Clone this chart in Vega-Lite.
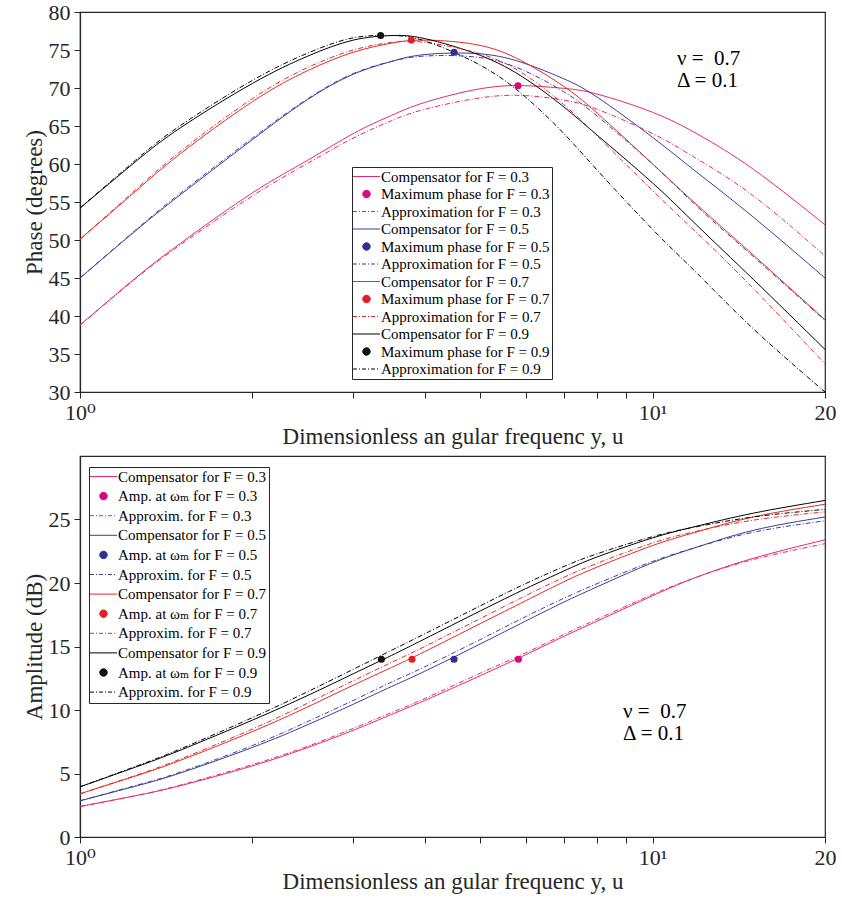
{
  "$schema": "https://vega.github.io/schema/vega-lite/v6.json",
  "background": "white",
  "padding": {"left": 22, "top": 0, "right": 0, "bottom": 0},
  "spacing": 6,
  "config": {
    "view": {"stroke": "#262626", "strokeWidth": 1.2},
    "font": "Liberation Serif, Times New Roman, DejaVu Serif, serif",
    "text": {"font": "Liberation Serif, Times New Roman, DejaVu Serif, serif"},
    "axis": {
      "labelFont": "Liberation Serif, Times New Roman, DejaVu Serif, serif", "titleFont": "Liberation Serif, Times New Roman, DejaVu Serif, serif",
      "labelFontSize": 22, "titleFontSize": 23, "titleFontWeight": "normal",
      "labelColor": "#262626", "titleColor": "#262626",
      "domainColor": "#262626", "tickColor": "#262626", "domainWidth": 1.2,
      "grid": false, "tickSize": 6, "labelPadding": 4, "titlePadding": 2,
      "labelOverlap": false, "labelFlush": false, "labelSeparation": 0
    },
    "legend": {
      "labelFont": "Liberation Serif, Times New Roman, DejaVu Serif, serif", "labelFontSize": 15, "labelColor": "#000000",
      "labelLimit": 400, "symbolStrokeWidth": 1, "symbolSize": 100, "symbolOffset": 5, "labelOffset": 7,
      "strokeColor": "#262626", "fillColor": "white", "padding": 2
    }
  },
  "datasets": {
    "phase": [
      {"u":1,"v":38.8,"s":"Compensator for F = 0.3"},{"u":1.25,"v":45.0,"s":"Compensator for F = 0.3"},{"u":1.5,"v":49.6,"s":"Compensator for F = 0.3"},{"u":2,"v":56.2,"s":"Compensator for F = 0.3"},{"u":2.5,"v":60.5,"s":"Compensator for F = 0.3"},{"u":3,"v":64.0,"s":"Compensator for F = 0.3"},{"u":3.5,"v":66.4,"s":"Compensator for F = 0.3"},{"u":4,"v":68.1,"s":"Compensator for F = 0.3"},{"u":5,"v":69.9,"s":"Compensator for F = 0.3"},{"u":6,"v":70.3,"s":"Compensator for F = 0.3"},{"u":7,"v":69.95,"s":"Compensator for F = 0.3"},{"u":8,"v":69.2,"s":"Compensator for F = 0.3"},{"u":10,"v":66.8,"s":"Compensator for F = 0.3"},{"u":12,"v":63.9,"s":"Compensator for F = 0.3"},{"u":15,"v":59.3,"s":"Compensator for F = 0.3"},{"u":20,"v":52.0,"s":"Compensator for F = 0.3"},
      {"u":1,"v":38.8,"s":"Approximation for F = 0.3"},{"u":1.25,"v":44.9,"s":"Approximation for F = 0.3"},{"u":1.5,"v":49.4,"s":"Approximation for F = 0.3"},{"u":2,"v":55.8,"s":"Approximation for F = 0.3"},{"u":2.5,"v":60.1,"s":"Approximation for F = 0.3"},{"u":3,"v":63.4,"s":"Approximation for F = 0.3"},{"u":3.5,"v":65.7,"s":"Approximation for F = 0.3"},{"u":4,"v":67.2,"s":"Approximation for F = 0.3"},{"u":5,"v":68.7,"s":"Approximation for F = 0.3"},{"u":6,"v":69.0,"s":"Approximation for F = 0.3"},{"u":7,"v":68.4,"s":"Approximation for F = 0.3"},{"u":8,"v":67.2,"s":"Approximation for F = 0.3"},{"u":10,"v":64.0,"s":"Approximation for F = 0.3"},{"u":12,"v":60.6,"s":"Approximation for F = 0.3"},{"u":15,"v":55.8,"s":"Approximation for F = 0.3"},{"u":20,"v":47.9,"s":"Approximation for F = 0.3"},
      {"u":1,"v":45.0,"s":"Compensator for F = 0.5"},{"u":1.25,"v":51.2,"s":"Compensator for F = 0.5"},{"u":1.5,"v":56.0,"s":"Compensator for F = 0.5"},{"u":2,"v":63.2,"s":"Compensator for F = 0.5"},{"u":2.5,"v":68.5,"s":"Compensator for F = 0.5"},{"u":3,"v":71.8,"s":"Compensator for F = 0.5"},{"u":3.5,"v":73.5,"s":"Compensator for F = 0.5"},{"u":4,"v":74.4,"s":"Compensator for F = 0.5"},{"u":5,"v":74.5,"s":"Compensator for F = 0.5"},{"u":6,"v":73.2,"s":"Compensator for F = 0.5"},{"u":7,"v":71.2,"s":"Compensator for F = 0.5"},{"u":8,"v":68.8,"s":"Compensator for F = 0.5"},{"u":10,"v":63.5,"s":"Compensator for F = 0.5"},{"u":12,"v":58.8,"s":"Compensator for F = 0.5"},{"u":15,"v":53.0,"s":"Compensator for F = 0.5"},{"u":20,"v":45.0,"s":"Compensator for F = 0.5"},
      {"u":1,"v":45.0,"s":"Approximation for F = 0.5"},{"u":1.25,"v":51.3,"s":"Approximation for F = 0.5"},{"u":1.5,"v":56.2,"s":"Approximation for F = 0.5"},{"u":2,"v":63.4,"s":"Approximation for F = 0.5"},{"u":2.5,"v":68.6,"s":"Approximation for F = 0.5"},{"u":3,"v":71.9,"s":"Approximation for F = 0.5"},{"u":3.5,"v":73.5,"s":"Approximation for F = 0.5"},{"u":4,"v":74.2,"s":"Approximation for F = 0.5"},{"u":5,"v":74.0,"s":"Approximation for F = 0.5"},{"u":6,"v":72.2,"s":"Approximation for F = 0.5"},{"u":7,"v":69.5,"s":"Approximation for F = 0.5"},{"u":8,"v":66.3,"s":"Approximation for F = 0.5"},{"u":10,"v":60.0,"s":"Approximation for F = 0.5"},{"u":12,"v":54.3,"s":"Approximation for F = 0.5"},{"u":15,"v":47.8,"s":"Approximation for F = 0.5"},{"u":20,"v":39.4,"s":"Approximation for F = 0.5"},
      {"u":1,"v":50.1,"s":"Compensator for F = 0.7"},{"u":1.25,"v":56.4,"s":"Compensator for F = 0.7"},{"u":1.5,"v":61.4,"s":"Compensator for F = 0.7"},{"u":2,"v":68.2,"s":"Compensator for F = 0.7"},{"u":2.5,"v":72.3,"s":"Compensator for F = 0.7"},{"u":3,"v":74.7,"s":"Compensator for F = 0.7"},{"u":3.5,"v":75.9,"s":"Compensator for F = 0.7"},{"u":4,"v":76.3,"s":"Compensator for F = 0.7"},{"u":5,"v":75.6,"s":"Compensator for F = 0.7"},{"u":6,"v":73.3,"s":"Compensator for F = 0.7"},{"u":7,"v":70.2,"s":"Compensator for F = 0.7"},{"u":8,"v":66.7,"s":"Compensator for F = 0.7"},{"u":10,"v":60.0,"s":"Compensator for F = 0.7"},{"u":12,"v":54.5,"s":"Compensator for F = 0.7"},{"u":15,"v":48.0,"s":"Compensator for F = 0.7"},{"u":20,"v":39.5,"s":"Compensator for F = 0.7"},
      {"u":1,"v":50.1,"s":"Approximation for F = 0.7"},{"u":1.25,"v":56.6,"s":"Approximation for F = 0.7"},{"u":1.5,"v":61.7,"s":"Approximation for F = 0.7"},{"u":2,"v":68.6,"s":"Approximation for F = 0.7"},{"u":2.5,"v":72.7,"s":"Approximation for F = 0.7"},{"u":3,"v":75.0,"s":"Approximation for F = 0.7"},{"u":3.5,"v":76.0,"s":"Approximation for F = 0.7"},{"u":4,"v":76.0,"s":"Approximation for F = 0.7"},{"u":5,"v":74.5,"s":"Approximation for F = 0.7"},{"u":6,"v":71.7,"s":"Approximation for F = 0.7"},{"u":7,"v":67.8,"s":"Approximation for F = 0.7"},{"u":8,"v":63.7,"s":"Approximation for F = 0.7"},{"u":10,"v":56.5,"s":"Approximation for F = 0.7"},{"u":12,"v":50.8,"s":"Approximation for F = 0.7"},{"u":15,"v":43.6,"s":"Approximation for F = 0.7"},{"u":20,"v":33.7,"s":"Approximation for F = 0.7"},
      {"u":1,"v":54.2,"s":"Compensator for F = 0.9"},{"u":1.25,"v":60.3,"s":"Compensator for F = 0.9"},{"u":1.5,"v":64.8,"s":"Compensator for F = 0.9"},{"u":2,"v":70.6,"s":"Compensator for F = 0.9"},{"u":2.5,"v":74.2,"s":"Compensator for F = 0.9"},{"u":3,"v":76.3,"s":"Compensator for F = 0.9"},{"u":3.5,"v":76.9,"s":"Compensator for F = 0.9"},{"u":4,"v":76.5,"s":"Compensator for F = 0.9"},{"u":5,"v":74.3,"s":"Compensator for F = 0.9"},{"u":6,"v":71.2,"s":"Compensator for F = 0.9"},{"u":7,"v":67.5,"s":"Compensator for F = 0.9"},{"u":8,"v":63.8,"s":"Compensator for F = 0.9"},{"u":10,"v":57.5,"s":"Compensator for F = 0.9"},{"u":12,"v":51.8,"s":"Compensator for F = 0.9"},{"u":15,"v":44.8,"s":"Compensator for F = 0.9"},{"u":20,"v":35.6,"s":"Compensator for F = 0.9"},
      {"u":1,"v":54.2,"s":"Approximation for F = 0.9"},{"u":1.25,"v":60.5,"s":"Approximation for F = 0.9"},{"u":1.5,"v":65.1,"s":"Approximation for F = 0.9"},{"u":2,"v":71.0,"s":"Approximation for F = 0.9"},{"u":2.5,"v":74.6,"s":"Approximation for F = 0.9"},{"u":3,"v":76.6,"s":"Approximation for F = 0.9"},{"u":3.5,"v":76.9,"s":"Approximation for F = 0.9"},{"u":4,"v":76.2,"s":"Approximation for F = 0.9"},{"u":5,"v":73.0,"s":"Approximation for F = 0.9"},{"u":6,"v":68.8,"s":"Approximation for F = 0.9"},{"u":7,"v":64.0,"s":"Approximation for F = 0.9"},{"u":8,"v":59.2,"s":"Approximation for F = 0.9"},{"u":10,"v":51.4,"s":"Approximation for F = 0.9"},{"u":12,"v":45.5,"s":"Approximation for F = 0.9"},{"u":15,"v":38.3,"s":"Approximation for F = 0.9"},{"u":20,"v":30.0,"s":"Approximation for F = 0.9"},
      {"u":5.82,"v":70.3,"s":"Maximum phase for F = 0.3"},
      {"u":4.5,"v":74.7,"s":"Maximum phase for F = 0.5"},
      {"u":3.79,"v":76.3,"s":"Maximum phase for F = 0.7"},
      {"u":3.35,"v":76.9,"s":"Maximum phase for F = 0.9"}
    ],
    "amp": [
      {"u":1,"v":2.4,"s":"Compensator for F = 0.3"},{"u":1.25,"v":3.25,"s":"Compensator for F = 0.3"},{"u":1.5,"v":4.05,"s":"Compensator for F = 0.3"},{"u":2,"v":5.6,"s":"Compensator for F = 0.3"},{"u":2.5,"v":7.05,"s":"Compensator for F = 0.3"},{"u":3,"v":8.4,"s":"Compensator for F = 0.3"},{"u":3.5,"v":9.65,"s":"Compensator for F = 0.3"},{"u":4,"v":10.75,"s":"Compensator for F = 0.3"},{"u":5,"v":12.7,"s":"Compensator for F = 0.3"},{"u":6,"v":14.35,"s":"Compensator for F = 0.3"},{"u":7,"v":15.8,"s":"Compensator for F = 0.3"},{"u":8,"v":17.0,"s":"Compensator for F = 0.3"},{"u":10,"v":19.0,"s":"Compensator for F = 0.3"},{"u":12,"v":20.5,"s":"Compensator for F = 0.3"},{"u":15,"v":21.95,"s":"Compensator for F = 0.3"},{"u":20,"v":23.4,"s":"Compensator for F = 0.3"},
      {"u":1,"v":2.4,"s":"Approxim. for F = 0.3"},{"u":1.25,"v":3.25,"s":"Approxim. for F = 0.3"},{"u":1.5,"v":4.1,"s":"Approxim. for F = 0.3"},{"u":2,"v":5.7,"s":"Approxim. for F = 0.3"},{"u":2.5,"v":7.15,"s":"Approxim. for F = 0.3"},{"u":3,"v":8.55,"s":"Approxim. for F = 0.3"},{"u":3.5,"v":9.8,"s":"Approxim. for F = 0.3"},{"u":4,"v":10.9,"s":"Approxim. for F = 0.3"},{"u":5,"v":12.9,"s":"Approxim. for F = 0.3"},{"u":6,"v":14.5,"s":"Approxim. for F = 0.3"},{"u":7,"v":15.95,"s":"Approxim. for F = 0.3"},{"u":8,"v":17.15,"s":"Approxim. for F = 0.3"},{"u":10,"v":19.1,"s":"Approxim. for F = 0.3"},{"u":12,"v":20.5,"s":"Approxim. for F = 0.3"},{"u":15,"v":21.85,"s":"Approxim. for F = 0.3"},{"u":20,"v":23.1,"s":"Approxim. for F = 0.3"},
      {"u":1,"v":2.85,"s":"Compensator for F = 0.5"},{"u":1.25,"v":4.0,"s":"Compensator for F = 0.5"},{"u":1.5,"v":5.05,"s":"Compensator for F = 0.5"},{"u":2,"v":7.05,"s":"Compensator for F = 0.5"},{"u":2.5,"v":8.85,"s":"Compensator for F = 0.5"},{"u":3,"v":10.45,"s":"Compensator for F = 0.5"},{"u":3.5,"v":11.85,"s":"Compensator for F = 0.5"},{"u":4,"v":13.05,"s":"Compensator for F = 0.5"},{"u":5,"v":15.2,"s":"Compensator for F = 0.5"},{"u":6,"v":17.0,"s":"Compensator for F = 0.5"},{"u":7,"v":18.5,"s":"Compensator for F = 0.5"},{"u":8,"v":19.7,"s":"Compensator for F = 0.5"},{"u":10,"v":21.6,"s":"Compensator for F = 0.5"},{"u":12,"v":22.85,"s":"Compensator for F = 0.5"},{"u":15,"v":24.15,"s":"Compensator for F = 0.5"},{"u":20,"v":25.2,"s":"Compensator for F = 0.5"},
      {"u":1,"v":2.85,"s":"Approxim. for F = 0.5"},{"u":1.25,"v":4.05,"s":"Approxim. for F = 0.5"},{"u":1.5,"v":5.12,"s":"Approxim. for F = 0.5"},{"u":2,"v":7.2,"s":"Approxim. for F = 0.5"},{"u":2.5,"v":9.1,"s":"Approxim. for F = 0.5"},{"u":3,"v":10.75,"s":"Approxim. for F = 0.5"},{"u":3.5,"v":12.2,"s":"Approxim. for F = 0.5"},{"u":4,"v":13.4,"s":"Approxim. for F = 0.5"},{"u":5,"v":15.55,"s":"Approxim. for F = 0.5"},{"u":6,"v":17.35,"s":"Approxim. for F = 0.5"},{"u":7,"v":18.8,"s":"Approxim. for F = 0.5"},{"u":8,"v":19.95,"s":"Approxim. for F = 0.5"},{"u":10,"v":21.7,"s":"Approxim. for F = 0.5"},{"u":12,"v":22.85,"s":"Approxim. for F = 0.5"},{"u":15,"v":24.0,"s":"Approxim. for F = 0.5"},{"u":20,"v":24.9,"s":"Approxim. for F = 0.5"},
      {"u":1,"v":3.4,"s":"Compensator for F = 0.7"},{"u":1.25,"v":4.8,"s":"Compensator for F = 0.7"},{"u":1.5,"v":6.05,"s":"Compensator for F = 0.7"},{"u":2,"v":8.3,"s":"Compensator for F = 0.7"},{"u":2.5,"v":10.25,"s":"Compensator for F = 0.7"},{"u":3,"v":11.95,"s":"Compensator for F = 0.7"},{"u":3.5,"v":13.35,"s":"Compensator for F = 0.7"},{"u":4,"v":14.6,"s":"Compensator for F = 0.7"},{"u":5,"v":16.8,"s":"Compensator for F = 0.7"},{"u":6,"v":18.6,"s":"Compensator for F = 0.7"},{"u":7,"v":20.1,"s":"Compensator for F = 0.7"},{"u":8,"v":21.25,"s":"Compensator for F = 0.7"},{"u":10,"v":22.95,"s":"Compensator for F = 0.7"},{"u":12,"v":24.05,"s":"Compensator for F = 0.7"},{"u":15,"v":25.2,"s":"Compensator for F = 0.7"},{"u":20,"v":26.2,"s":"Compensator for F = 0.7"},
      {"u":1,"v":3.4,"s":"Approxim. for F = 0.7"},{"u":1.25,"v":4.85,"s":"Approxim. for F = 0.7"},{"u":1.5,"v":6.15,"s":"Approxim. for F = 0.7"},{"u":2,"v":8.5,"s":"Approxim. for F = 0.7"},{"u":2.5,"v":10.55,"s":"Approxim. for F = 0.7"},{"u":3,"v":12.3,"s":"Approxim. for F = 0.7"},{"u":3.5,"v":13.75,"s":"Approxim. for F = 0.7"},{"u":4,"v":15.0,"s":"Approxim. for F = 0.7"},{"u":5,"v":17.2,"s":"Approxim. for F = 0.7"},{"u":6,"v":19.0,"s":"Approxim. for F = 0.7"},{"u":7,"v":20.45,"s":"Approxim. for F = 0.7"},{"u":8,"v":21.55,"s":"Approxim. for F = 0.7"},{"u":10,"v":23.15,"s":"Approxim. for F = 0.7"},{"u":12,"v":24.1,"s":"Approxim. for F = 0.7"},{"u":15,"v":24.95,"s":"Approxim. for F = 0.7"},{"u":20,"v":25.6,"s":"Approxim. for F = 0.7"},
      {"u":1,"v":3.95,"s":"Compensator for F = 0.9"},{"u":1.25,"v":5.5,"s":"Compensator for F = 0.9"},{"u":1.5,"v":6.85,"s":"Compensator for F = 0.9"},{"u":2,"v":9.2,"s":"Compensator for F = 0.9"},{"u":2.5,"v":11.15,"s":"Compensator for F = 0.9"},{"u":3,"v":12.85,"s":"Compensator for F = 0.9"},{"u":3.5,"v":14.3,"s":"Compensator for F = 0.9"},{"u":4,"v":15.6,"s":"Compensator for F = 0.9"},{"u":5,"v":17.8,"s":"Compensator for F = 0.9"},{"u":6,"v":19.55,"s":"Compensator for F = 0.9"},{"u":7,"v":20.95,"s":"Compensator for F = 0.9"},{"u":8,"v":22.05,"s":"Compensator for F = 0.9"},{"u":10,"v":23.55,"s":"Compensator for F = 0.9"},{"u":12,"v":24.5,"s":"Compensator for F = 0.9"},{"u":15,"v":25.5,"s":"Compensator for F = 0.9"},{"u":20,"v":26.5,"s":"Compensator for F = 0.9"},
      {"u":1,"v":3.95,"s":"Approxim. for F = 0.9"},{"u":1.25,"v":5.55,"s":"Approxim. for F = 0.9"},{"u":1.5,"v":6.95,"s":"Approxim. for F = 0.9"},{"u":2,"v":9.4,"s":"Approxim. for F = 0.9"},{"u":2.5,"v":11.45,"s":"Approxim. for F = 0.9"},{"u":3,"v":13.2,"s":"Approxim. for F = 0.9"},{"u":3.5,"v":14.7,"s":"Approxim. for F = 0.9"},{"u":4,"v":16.0,"s":"Approxim. for F = 0.9"},{"u":5,"v":18.2,"s":"Approxim. for F = 0.9"},{"u":6,"v":19.95,"s":"Approxim. for F = 0.9"},{"u":7,"v":21.3,"s":"Approxim. for F = 0.9"},{"u":8,"v":22.3,"s":"Approxim. for F = 0.9"},{"u":10,"v":23.65,"s":"Approxim. for F = 0.9"},{"u":12,"v":24.45,"s":"Approxim. for F = 0.9"},{"u":15,"v":25.2,"s":"Approxim. for F = 0.9"},{"u":20,"v":25.8,"s":"Approxim. for F = 0.9"},
      {"u":5.83,"v":14.0,"s":"Amp. at ωₘ for F = 0.3"},
      {"u":4.5,"v":14.0,"s":"Amp. at ωₘ for F = 0.5"},
      {"u":3.8,"v":14.0,"s":"Amp. at ωₘ for F = 0.7"},
      {"u":3.36,"v":14.0,"s":"Amp. at ωₘ for F = 0.9"}
    ],
    "note1": [
      {"u":11.03,"v":73.85,"t":"ν = \u00a00.7"},
      {"u":11.03,"v":70.97,"t":"Δ = 0.1"}
    ],
    "note2": [
      {"u":8.88,"v":9.86,"t":"ν = \u00a00.7"},
      {"u":8.88,"v":8.13,"t":"Δ = 0.1"}
    ]
  },
  "vconcat": [
    {
      "width": 745, "height": 380,
      "data": {"name": "phase"},
      "encoding": {
        "x": {"field": "u", "type": "quantitative",
          "scale": {"type": "log", "domain": [1, 20], "nice": false},
          "axis": {"values": [1,2,3,4,5,6,7,8,9,10,20], "labelOverlap": false, "labelExpr": "datum.value == 1 ? '10⁰' : datum.value == 10 ? '10¹' : datum.value == 20 ? '20' : ''", "title": "Dimensionless an gular frequenc y, u"}},
        "y": {"field": "v", "type": "quantitative",
          "scale": {"domain": [30, 80], "nice": false, "zero": false},
          "axis": {"values": [30,35,40,45,50,55,60,65,70,75,80], "labelOverlap": false, "title": "Phase (degrees)"}}
      },
      "layer": [
        {
          "transform": [{"filter": "indexof(datum.s,'Comp')==0"}],
          "mark": {"type": "line", "strokeWidth": 1, "interpolate": "natural"},
          "encoding": {
            "color": {"field": "s", "type": "nominal",
              "scale": {
                "domain": ["Compensator for F = 0.3","Maximum phase for F = 0.3","Approximation for F = 0.3","Compensator for F = 0.5","Maximum phase for F = 0.5","Approximation for F = 0.5","Compensator for F = 0.7","Maximum phase for F = 0.7","Approximation for F = 0.7","Compensator for F = 0.9","Maximum phase for F = 0.9","Approximation for F = 0.9"],
                "range": ["#E8286A","#D6087F","#E8286A","#3C3C9C","#2E3192","#3C3C9C","#E32A2A","#E31E24","#E32A2A","#000000","#111111","#000000"]},
              "legend": {
                "title": null, "orient": "none", "legendX": 272, "legendY": 155, "rowPadding": 1.5,
                "encode": {"symbols": {"update": {
                  "shape": {"signal": "(indexof(datum.value,'Max')==0||indexof(datum.value,'Amp')==0) ? 'M0.75,0A0.75,0.75,0,1,1,-0.75,0A0.75,0.75,0,1,1,0.75,0Z' : indexof(datum.value,'Approx')==0 ? 'M-2.7,0H-1.9M-1.5,0H-1.3M-0.9,0H-0.1M0.3,0H0.5M0.9,0H1.7M2.1,0H2.3' : 'M-2.7,0H2.7'"},
                  "stroke": {"signal": "indexof(datum.value,'0.3')>0 ? ((indexof(datum.value,'Max')==0||indexof(datum.value,'Amp')==0) ? '#D6087F' : '#E8286A') : indexof(datum.value,'0.5')>0 ? '#3C3C9C' : indexof(datum.value,'0.7')>0 ? '#E32A2A' : '#000000'"},
                  "fill": {"signal": "(indexof(datum.value,'Max')==0||indexof(datum.value,'Amp')==0) ? (indexof(datum.value,'0.3')>0 ? '#D6087F' : indexof(datum.value,'0.5')>0 ? '#2E3192' : indexof(datum.value,'0.7')>0 ? '#E31E24' : '#111111') : 'transparent'"}
                }}}
              }}
          }
        },
        {
          "transform": [{"filter": "indexof(datum.s,'Approx')==0"}],
          "mark": {"type": "line", "strokeWidth": 1, "strokeDash": [5, 2, 1, 2], "interpolate": "natural"},
          "encoding": {
            "color": {"field": "s", "type": "nominal"}
          }
        },
        {
          "transform": [{"filter": "indexof(datum.s,'Max')==0"}],
          "mark": {"type": "point", "filled": true, "size": 50, "opacity": 1},
          "encoding": {
            "color": {"field": "s", "type": "nominal"}
          }
        },
        {
          "data": {"name": "note1"},
          "mark": {"type": "text", "align": "left", "baseline": "middle", "fontSize": 21, "color": "#000000"},
          "encoding": {
            "text": {"field": "t"}
          }
        }
      ]
    },
    {
      "width": 745, "height": 381,
      "data": {"name": "amp"},
      "encoding": {
        "x": {"field": "u", "type": "quantitative",
          "scale": {"type": "log", "domain": [1, 20], "nice": false},
          "axis": {"values": [1,2,3,4,5,6,7,8,9,10,20], "labelOverlap": false, "labelExpr": "datum.value == 1 ? '10⁰' : datum.value == 10 ? '10¹' : datum.value == 20 ? '20' : ''", "title": "Dimensionless an gular frequenc y, u"}},
        "y": {"field": "v", "type": "quantitative",
          "scale": {"domain": [0, 30], "nice": false},
          "axis": {"values": [0,5,10,15,20,25], "labelOverlap": false, "title": "Amplitude (dB)"}}
      },
      "layer": [
        {
          "transform": [{"filter": "indexof(datum.s,'Comp')==0"}],
          "mark": {"type": "line", "strokeWidth": 1, "interpolate": "natural"},
          "encoding": {
            "color": {"field": "s", "type": "nominal",
              "scale": {
                "domain": ["Compensator for F = 0.3","Amp. at ωₘ for F = 0.3","Approxim. for F = 0.3","Compensator for F = 0.5","Amp. at ωₘ for F = 0.5","Approxim. for F = 0.5","Compensator for F = 0.7","Amp. at ωₘ for F = 0.7","Approxim. for F = 0.7","Compensator for F = 0.9","Amp. at ωₘ for F = 0.9","Approxim. for F = 0.9"],
                "range": ["#E8286A","#D6087F","#E8286A","#3C3C9C","#2E3192","#3C3C9C","#E32A2A","#E31E24","#E32A2A","#000000","#111111","#000000"]},
              "legend": {
                "title": null, "orient": "none", "legendX": 9, "legendY": 11, "rowPadding": 3.6,
                "encode": {"symbols": {"update": {
                  "shape": {"signal": "(indexof(datum.value,'Max')==0||indexof(datum.value,'Amp')==0) ? 'M0.75,0A0.75,0.75,0,1,1,-0.75,0A0.75,0.75,0,1,1,0.75,0Z' : indexof(datum.value,'Approx')==0 ? 'M-2.7,0H-1.9M-1.5,0H-1.3M-0.9,0H-0.1M0.3,0H0.5M0.9,0H1.7M2.1,0H2.3' : 'M-2.7,0H2.7'"},
                  "stroke": {"signal": "indexof(datum.value,'0.3')>0 ? ((indexof(datum.value,'Max')==0||indexof(datum.value,'Amp')==0) ? '#D6087F' : '#E8286A') : indexof(datum.value,'0.5')>0 ? '#3C3C9C' : indexof(datum.value,'0.7')>0 ? '#E32A2A' : '#000000'"},
                  "fill": {"signal": "(indexof(datum.value,'Max')==0||indexof(datum.value,'Amp')==0) ? (indexof(datum.value,'0.3')>0 ? '#D6087F' : indexof(datum.value,'0.5')>0 ? '#2E3192' : indexof(datum.value,'0.7')>0 ? '#E31E24' : '#111111') : 'transparent'"}
                }}}
              }}
          }
        },
        {
          "transform": [{"filter": "indexof(datum.s,'Approx')==0"}],
          "mark": {"type": "line", "strokeWidth": 1, "strokeDash": [5, 2, 1, 2], "interpolate": "natural"},
          "encoding": {
            "color": {"field": "s", "type": "nominal"}
          }
        },
        {
          "transform": [{"filter": "indexof(datum.s,'Amp')==0"}],
          "mark": {"type": "point", "filled": true, "size": 50, "opacity": 1},
          "encoding": {
            "color": {"field": "s", "type": "nominal"}
          }
        },
        {
          "data": {"name": "note2"},
          "mark": {"type": "text", "align": "left", "baseline": "middle", "fontSize": 21, "color": "#000000"},
          "encoding": {
            "text": {"field": "t"}
          }
        }
      ]
    }
  ],
  "resolve": {"scale": {"color": "independent"}}
}
